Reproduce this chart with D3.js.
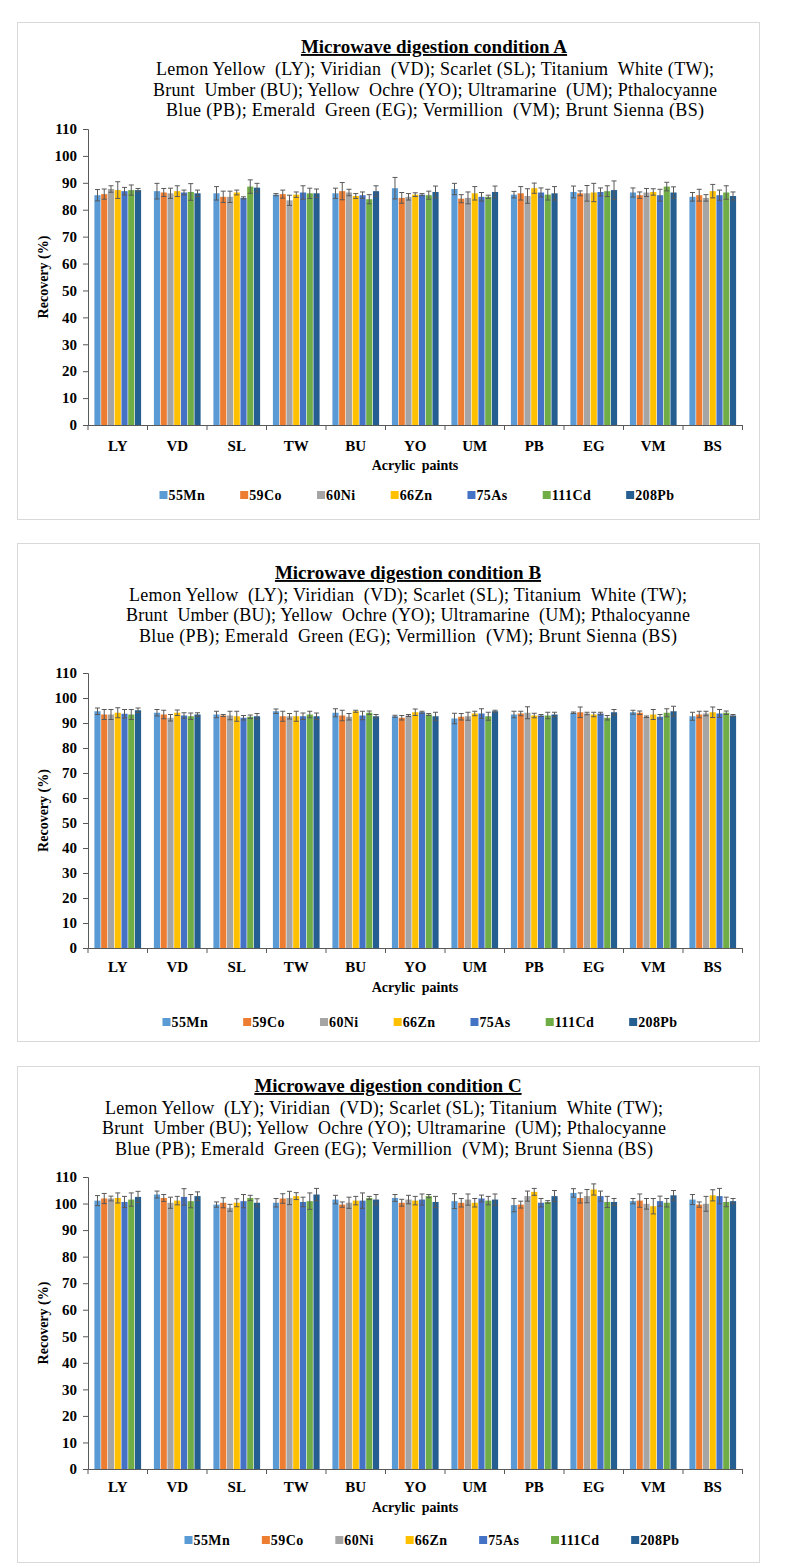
<!DOCTYPE html>
<html><head><meta charset="utf-8">
<script src="https://cdn.jsdelivr.net/npm/d3@7"></script>
<style>body{margin:0;background:#fff}svg{display:block}text{font-family:"Liberation Serif","Times New Roman","DejaVu Serif",serif}</style>
</head><body>
<svg id="c" width="786" height="1567"></svg>
<script>
const categories = ["LY","VD","SL","TW","BU","YO","UM","PB","EG","VM","BS"];
const isotopes = ["55Mn","59Co","60Ni","66Zn","75As","111Cd","208Pb"];
const yTicks = [0,10,20,30,40,50,60,70,80,90,100,110];
const conditions = ["A","B","C"];
const subtitleLines = [
  "Lemon Yellow  (LY); Viridian  (VD); Scarlet (SL); Titanium  White (TW);",
  "Brunt  Umber (BU); Yellow  Ochre (YO); Ultramarine  (UM); Pthalocyanne",
  "Blue (PB); Emerald  Green (EG); Vermillion  (VM); Brunt Sienna (BS)"
];
// Recovery (%) per paint (rows) and isotope (columns)
const recoveryA = [
  [85.4,85.8,87.7,87.3,86.9,87.3,87.3],
  [86.9,86.4,86.1,86.9,86.4,86.6,86.1],
  [86.1,84.8,84.8,86.4,84.4,88.6,88.2],
  [85.6,85.8,83.5,85.6,86.4,86.1,86.1],
  [86.1,86.9,86.4,85.1,85.4,83.9,86.9],
  [88.0,84.4,84.8,85.6,85.6,85.4,86.6],
  [87.7,84.1,84.4,86.1,84.8,84.8,86.6],
  [85.6,86.1,85.1,88.0,86.4,85.6,86.1],
  [86.6,86.1,86.1,86.4,86.6,86.9,87.3],
  [86.4,85.4,86.4,86.6,85.4,88.6,86.4],
  [84.8,85.4,84.4,86.9,85.4,86.4,85.1]
];
const sdA = [
  [2.1,1.9,1.2,3.1,1.4,1.9,0.6],
  [2.9,1.5,1.9,2.0,0.9,3.1,1.2],
  [2.5,2.1,2.1,0.9,0.4,2.5,1.6],
  [0.4,1.5,1.9,1.0,2.5,1.9,1.6],
  [1.9,3.2,1.2,0.9,1.2,1.7,2.0],
  [4.0,2.0,1.2,0.7,0.4,1.5,2.2],
  [2.1,1.5,2.2,2.5,1.6,0.6,2.2],
  [1.2,2.5,2.7,1.9,1.7,2.0,2.5],
  [2.2,0.9,2.9,3.4,1.5,2.0,3.4],
  [1.7,1.2,1.5,1.2,2.2,1.6,2.1],
  [1.6,2.2,1.2,2.5,1.9,2.5,1.5]
];
const recoveryB = [
  [94.7,93.4,93.4,94.1,93.7,93.4,95.1],
  [94.1,93.4,92.1,94.1,93.0,92.7,93.4],
  [93.4,93.0,93.0,92.7,92.1,92.5,92.7],
  [94.7,92.7,92.7,92.7,92.7,93.4,92.7],
  [94.1,93.0,92.5,94.7,93.0,94.1,92.7],
  [92.7,92.1,93.0,94.3,94.3,93.4,92.7],
  [91.8,92.5,92.7,93.8,93.8,92.7,94.7],
  [93.4,93.8,94.1,93.0,93.0,93.0,93.4],
  [94.1,94.3,93.8,93.4,93.8,92.1,94.3],
  [94.3,94.1,92.5,93.4,92.5,94.1,94.7],
  [92.7,93.4,93.8,94.3,93.8,94.1,93.0]
];
const sdB = [
  [1.3,2.0,2.0,2.0,1.7,2.0,0.9],
  [1.3,1.7,1.3,1.1,1.1,1.3,0.7],
  [1.3,0.4,1.7,2.0,0.9,0.7,1.1],
  [0.9,2.0,1.1,2.0,1.3,1.3,1.3],
  [1.6,2.1,1.3,0.4,1.7,0.7,0.7],
  [0.4,0.9,0.4,1.3,0.4,0.4,1.6],
  [2.1,1.3,1.6,0.9,1.9,1.6,0.4],
  [1.3,0.9,2.4,0.9,0.4,1.3,0.9],
  [0.3,2.1,0.5,0.9,0.5,0.9,1.1],
  [0.8,0.7,0.3,2.0,0.9,1.6,2.0],
  [1.6,1.3,0.9,2.1,1.6,0.7,0.4]
];
const recoveryC = [
  [101.1,101.9,101.9,102.1,100.6,101.5,102.5],
  [103.4,102.1,100.3,101.1,102.5,100.9,102.8],
  [99.6,100.3,98.4,100.3,100.9,102.1,100.3],
  [100.3,101.9,102.1,102.8,100.6,100.9,103.4],
  [101.5,99.6,100.3,101.1,101.1,102.1,101.5],
  [102.1,100.3,101.5,101.1,101.5,102.8,100.6],
  [100.9,100.3,101.5,100.3,101.9,101.1,101.5],
  [99.4,99.6,102.8,104.4,100.3,100.6,102.8],
  [104.0,102.1,102.8,105.3,102.8,100.6,100.6],
  [100.9,101.1,99.9,99.0,100.9,100.3,103.1],
  [101.5,99.6,99.9,103.1,102.8,100.6,100.9]
];
const sdC = [
  [1.9,1.9,0.9,1.9,2.1,2.5,2.1],
  [1.3,1.3,2.1,1.6,3.1,2.5,1.6],
  [1.0,1.9,1.3,1.5,2.5,1.0,1.5],
  [1.6,1.8,2.5,1.3,1.8,3.1,2.3],
  [1.6,1.0,2.1,1.6,2.9,0.6,1.9],
  [1.3,1.3,1.6,1.6,2.1,0.6,2.1],
  [2.8,1.6,2.1,1.6,1.3,1.6,2.1],
  [2.5,1.3,1.9,1.3,1.6,0.5,2.1],
  [1.6,1.9,2.5,2.1,1.9,2.1,1.3],
  [1.0,2.5,2.0,2.9,1.9,1.6,1.8],
  [1.9,1.0,2.8,2.1,2.9,1.8,1.0]
];
const colors = ["#5B9BD5","#ED7D31","#A5A5A5","#FFC000","#4472C4","#70AD47","#255E91"];

const values = [recoveryA, recoveryB, recoveryC];
const sds = [sdA, sdB, sdC];

// layout of each panel (pixel geometry)
const layout = [
  {top:22,  bottom:519,  titleY:53,   subY:[75,96,116],      subX:435, titleX:434, y110:129,  y0:425,  catY:451,  xTitleY:470,  legY:500,  legX:417, legW:515},
  {top:543, bottom:1041, titleY:579,  subY:[601,621,642],    subX:408, titleX:408, y110:673,  y0:948,  catY:972,  xTitleY:992,  legY:1027, legX:420, legW:515},
  {top:1066,bottom:1562, titleY:1092, subY:[1114,1134,1155], subX:384, titleX:388, y110:1177, y0:1469, catY:1492, xTitleY:1512, legY:1545, legX:432, legW:495}
];
const lineWidths = [558, 564, 538];
const svg = d3.select("#c");
const axisColor = "#595959";
const axisX0 = 88, axisX1 = 742.5;

conditions.forEach((cond, pi) => {
  const L = layout[pi];
  const g = svg.append("g");
  g.append("rect").attr("x",17.5).attr("y",L.top+0.5).attr("width",742).attr("height",L.bottom-L.top)
    .attr("fill","#fff").attr("stroke","#d9d9d9");

  g.append("text").attr("x",L.titleX).attr("y",L.titleY).attr("text-anchor","middle")
    .attr("font-weight","bold").attr("font-size",19)
    .attr("text-decoration","underline").text("Microwave digestion condition " + cond);
  subtitleLines.forEach((t,i)=>{
    g.append("text").attr("x",L.subX).attr("y",L.subY[i]).attr("text-anchor","middle")
      .attr("font-size",18).attr("textLength",lineWidths[i]).attr("lengthAdjust","spacing")
      .style("white-space","pre").text(t);
  });

  const x0 = d3.scaleBand().domain(categories).range([axisX0, axisX1]).paddingInner(0.205).paddingOuter(0.1025);
  const x1 = d3.scaleBand().domain(isotopes).range([0, x0.bandwidth()]);
  const y = d3.scaleLinear().domain([0,110]).range([L.y0, L.y110]);

  const data = values[pi], sd = sds[pi];
  const groups = g.append("g").selectAll("g").data(categories).join("g")
    .attr("transform", c => `translate(${x0(c)},0)`);
  groups.selectAll("rect").data((c,ci)=>isotopes.map((iso,k)=>({iso,k,v:data[ci][k],s:sd[ci][k]})))
    .join("rect").attr("x",d=>x1(d.iso)+0.3).attr("width",x1.bandwidth()-0.6)
    .attr("y",d=>y(d.v)).attr("height",d=>y(0)-y(d.v)).attr("fill",d=>colors[d.k]);
  const eb = groups.selectAll("g.eb").data((c,ci)=>isotopes.map((iso,k)=>({iso,k,v:data[ci][k],s:sd[ci][k]})))
    .join("g").attr("class","eb").attr("stroke","#595959").attr("stroke-width",1);
  const cxf = d=>x1(d.iso)+x1.bandwidth()/2;
  eb.append("line").attr("x1",cxf).attr("x2",cxf)
    .attr("y1",d=>y(d.v+d.s)).attr("y2",d=>y(d.v-d.s));
  eb.append("line").attr("x1",d=>cxf(d)-2.5).attr("x2",d=>cxf(d)+2.5)
    .attr("y1",d=>y(d.v+d.s)).attr("y2",d=>y(d.v+d.s));
  eb.append("line").attr("x1",d=>cxf(d)-2.5).attr("x2",d=>cxf(d)+2.5)
    .attr("y1",d=>y(d.v-d.s)).attr("y2",d=>y(d.v-d.s));

  // y axis
  const ya = g.append("g").attr("transform",`translate(${axisX0},0)`)
    .call(d3.axisLeft(y).tickValues(yTicks).tickSize(5).tickPadding(6));
  ya.select(".domain").attr("stroke",axisColor);
  ya.selectAll(".tick line").attr("stroke",axisColor);
  ya.selectAll("text").attr("font-weight","bold").attr("font-size",15).attr("fill","#000");

  // x axis
  const xa = g.append("g").attr("transform",`translate(0,${L.y0})`)
    .call(d3.axisBottom(x0).tickSize(0).tickPadding(0));
  xa.select(".domain").attr("stroke",axisColor);
  xa.selectAll("text").remove();
  const step = x0.step();
  g.append("g").selectAll("line").data(d3.range(categories.length+1)).join("line")
    .attr("x1",i=>axisX0+i*step).attr("x2",i=>axisX0+i*step).attr("y1",L.y0).attr("y2",L.y0+5)
    .attr("stroke",axisColor);
  g.append("g").selectAll("text").data(categories).join("text")
    .attr("x",c=>x0(c)+x0.bandwidth()/2).attr("y",L.catY).attr("text-anchor","middle")
    .attr("font-weight","bold").attr("font-size",15).text(c=>c);

  g.append("text").attr("x",415).attr("y",L.xTitleY).attr("text-anchor","middle")
    .attr("font-weight","bold").attr("font-size",14).style("word-spacing","3px").text("Acrylic paints");
  g.append("text").attr("transform",`translate(48,${(L.y0+L.y110)/2}) rotate(-90)`).attr("text-anchor","middle")
    .attr("font-weight","bold").attr("font-size",14).text("Recovery (%)");

  // legend
  const leg = g.append("g");
  const widths = [];
  const items = isotopes.map((iso,k)=>{
    const it = leg.append("g");
    it.append("rect").attr("x",0).attr("y",-9).attr("width",8).attr("height",8).attr("fill",colors[k]);
    const t = it.append("text").attr("x",9).attr("y",0).attr("font-weight","bold")
      .attr("font-size",14).style("letter-spacing","0.4px").text(iso);
    widths.push(9 + t.node().getComputedTextLength());
    return it;
  });
  const gap = (L.legW - d3.sum(widths)) / (isotopes.length - 1);
  let cx = 0;
  items.forEach((it,k)=>{ it.attr("transform",`translate(${cx},0)`); cx += widths[k] + gap; });
  leg.attr("transform",`translate(${L.legX - L.legW/2},${L.legY})`);
});
</script>
</body></html>
